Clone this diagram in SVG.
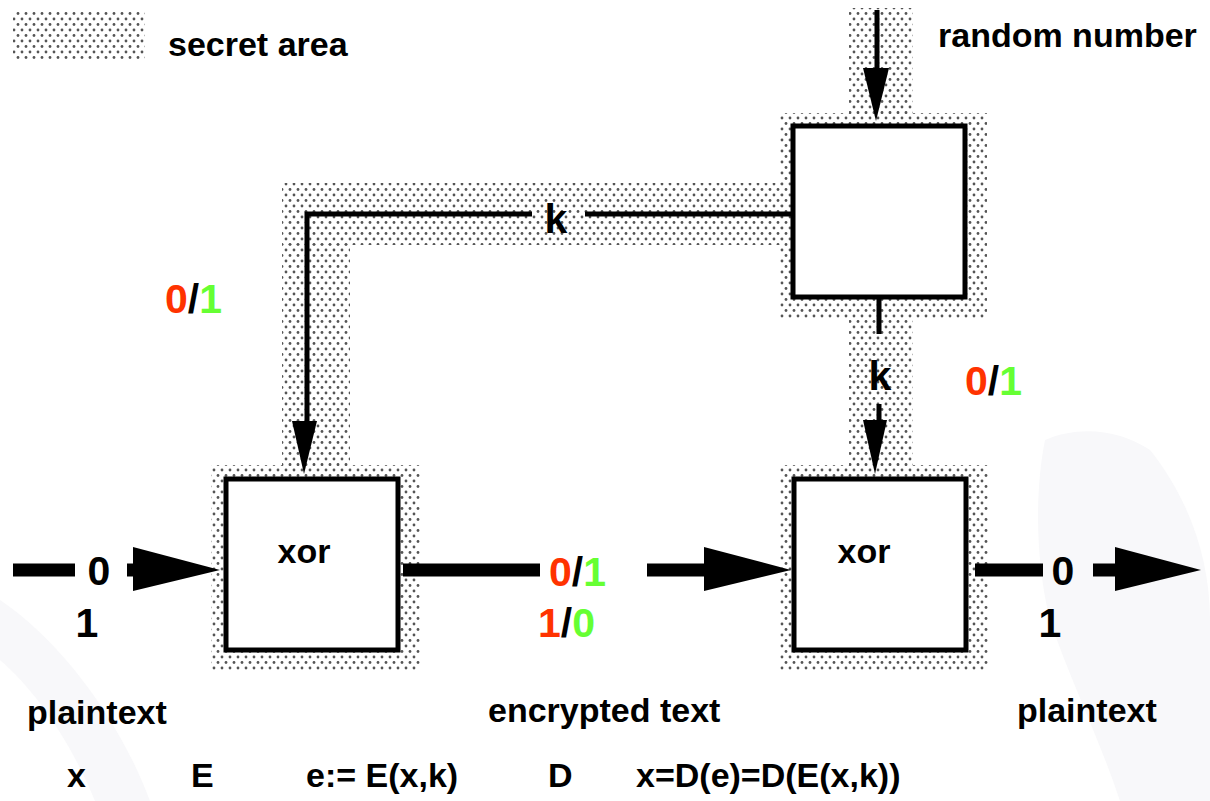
<svg xmlns="http://www.w3.org/2000/svg" width="1210" height="801" viewBox="0 0 1210 801">
  <defs>
    <!-- halftone dot fill for the secret area -->
    <pattern id="dots" width="8" height="11" patternUnits="userSpaceOnUse">
      <circle cx="2" cy="2.5" r="1.4" fill="#555"/>
      <circle cx="6" cy="8" r="1.4" fill="#555"/>
    </pattern>
    <style>
      text { font-family: "Liberation Sans", Arial, sans-serif; font-weight: bold; fill: #000; }
      .lbl { font-size: 34px; }
      .bit { font-size: 41px; }
      .red { fill: #ff3300; }
      .grn { fill: #66ff33; }
      .box { fill: #fff; stroke: #000; stroke-width: 5; }
      .thin { stroke: #000; stroke-width: 5; fill: none; }
      .thick { stroke: #000; stroke-width: 13; fill: none; }
      .head { fill: #000; }
      .secret { fill: url(#dots); }
    </style>
  </defs>

  <rect width="1210" height="801" fill="#fff"/>

  <!-- faint background watermark -->
  <g id="watermark" fill="#f8f8fa">
    <path d="M0,600 C60,640 120,720 150,801 L95,801 C70,740 35,690 0,660 Z"/>
    <path d="M1045,440 C1080,425 1120,430 1150,450 C1190,500 1210,560 1210,620 L1210,801 L1120,801 C1100,740 1070,680 1050,620 C1035,560 1035,490 1045,440 Z"/>
  </g>

  <!-- secret (shaded) area -->
  <g id="secret-area" class="secret">
    <rect x="13" y="11" width="132" height="49"/>
    <rect x="849" y="8" width="64" height="106"/>
    <rect x="780" y="113" width="207" height="207"/>
    <rect x="849" y="319" width="64" height="147"/>
    <rect x="282" y="183" width="499" height="62"/>
    <rect x="282" y="244" width="68" height="222"/>
    <rect x="211" y="465" width="209" height="207"/>
    <rect x="780" y="465" width="208" height="207"/>
  </g>

  <!-- legend -->
  <g id="legend">
    <text class="lbl" x="168" y="56">secret area</text>
  </g>

  <!-- processing blocks -->
  <g id="rng">
    <rect class="box" x="793" y="126" width="172" height="171"/>
  </g>
  <g id="xor-encrypt">
    <rect class="box" x="226" y="479" width="172" height="171"/>
    <text class="lbl" x="304" y="563" text-anchor="middle">xor</text>
  </g>
  <g id="xor-decrypt">
    <rect class="box" x="794" y="479" width="172" height="171"/>
    <text class="lbl" x="864" y="563" text-anchor="middle">xor</text>
  </g>

  <!-- connectors -->
  <g id="connectors">
    <!-- random number input -->
    <line class="thin" x1="877" y1="10" x2="877" y2="72"/>
    <polygon class="head" points="863,68 889,68 876,121"/>
    <!-- key k to encryption -->
    <polyline class="thin" points="532,214 307,214 307,424"/>
    <line class="thin" x1="585" y1="214" x2="793" y2="214"/>
    <polygon class="head" points="292,421 317,421 304,474"/>
    <!-- key k to decryption -->
    <line class="thin" x1="879" y1="297" x2="879" y2="334"/>
    <line class="thin" x1="879" y1="404" x2="879" y2="424"/>
    <polygon class="head" points="863,420 887,420 875,474"/>
    <!-- plaintext in -->
    <line class="thick" x1="13" y1="570" x2="75" y2="570"/>
    <line class="thick" x1="127" y1="570" x2="134" y2="570"/>
    <polygon class="head" points="133,547 220,570 133,591"/>
    <!-- ciphertext -->
    <line class="thick" x1="403" y1="570" x2="540" y2="570"/>
    <line class="thick" x1="647" y1="570" x2="705" y2="570"/>
    <polygon class="head" points="704,547 791,570 704,591"/>
    <!-- plaintext out -->
    <line class="thick" x1="975" y1="570" x2="1043" y2="570"/>
    <line class="thick" x1="1093" y1="570" x2="1116" y2="570"/>
    <polygon class="head" points="1115,547 1201,570 1115,591"/>
  </g>

  <!-- labels -->
  <g id="labels">
    <text class="lbl" x="938" y="47">random number</text>
    <text class="bit" x="556" y="233" text-anchor="middle">k</text>
    <text class="bit" x="880" y="390" text-anchor="middle">k</text>

    <text class="bit" x="165" y="313"><tspan class="red">0</tspan>/<tspan class="grn">1</tspan></text>
    <text class="bit" x="965" y="395"><tspan class="red">0</tspan>/<tspan class="grn">1</tspan></text>
    <text class="bit" x="549" y="586"><tspan class="red">0</tspan>/<tspan class="grn">1</tspan></text>
    <text class="bit" x="538" y="637"><tspan class="red">1</tspan>/<tspan class="grn">0</tspan></text>

    <text class="bit" x="99" y="585" text-anchor="middle">0</text>
    <text class="bit" x="87" y="637" text-anchor="middle">1</text>
    <text class="bit" x="1063" y="585" text-anchor="middle">0</text>
    <text class="bit" x="1050" y="637" text-anchor="middle">1</text>

    <text class="lbl" x="27" y="724">plaintext</text>
    <text class="lbl" x="488" y="722">encrypted text</text>
    <text class="lbl" x="1017" y="722">plaintext</text>

    <text class="lbl" x="67" y="787">x</text>
    <text class="lbl" x="191" y="787">E</text>
    <text class="lbl" x="306" y="787">e:= E(x,k)</text>
    <text class="lbl" x="548" y="787">D</text>
    <text class="lbl" x="636" y="787">x=D(e)=D(E(x,k))</text>
  </g>
</svg>
